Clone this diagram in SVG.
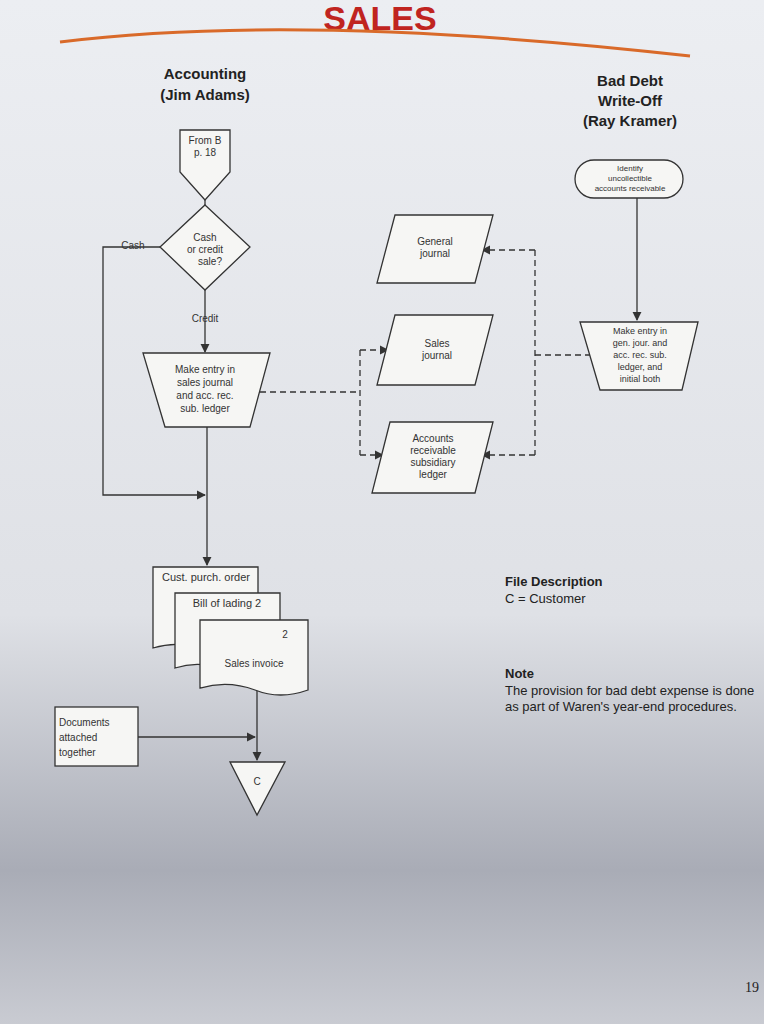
<svg xmlns="http://www.w3.org/2000/svg" width="764" height="1024" viewBox="0 0 764 1024">
<defs>
<linearGradient id="bg" x1="0" y1="0" x2="0" y2="1"><stop offset="0" stop-color="#eceef2"/><stop offset="0.6" stop-color="#dfe1e6"/><stop offset="0.85" stop-color="#a9acb6"/><stop offset="1" stop-color="#c9cbd2"/></linearGradient>
<marker id="a" viewBox="0 0 10 10" refX="9" refY="5" markerWidth="7" markerHeight="7" orient="auto"><path d="M0,0L10,5L0,10z" fill="#333"/></marker>
<style>
.s{fill:#f6f6f4;stroke:#333;stroke-width:1.3}
.l{fill:none;stroke:#333;stroke-width:1.3}
.d{fill:none;stroke:#333;stroke-width:1.3;stroke-dasharray:6,4}
.t{font-family:"Liberation Sans",Arial,sans-serif;font-size:10px;fill:#333;text-anchor:middle}
.h{font-family:"Liberation Sans",Arial,sans-serif;font-size:15px;font-weight:bold;fill:#222;text-anchor:middle}
.n{font-family:"Liberation Sans",Arial,sans-serif;font-size:13px;fill:#222}
</style>
</defs>
<rect width="764" height="1024" fill="url(#bg)"/>
<text x="380" y="30" class="h" style="font-size:34px;fill:#c0241f">SALES</text>
<path d="M60,42 Q300,12 690,56" fill="none" stroke="#d96a2a" stroke-width="3"/>
<text x="205" y="79" class="h">Accounting</text><text x="205" y="100" class="h">(Jim Adams)</text>
<text x="630" y="86" class="h">Bad Debt</text><text x="630" y="106" class="h">Write-Off</text><text x="630" y="126" class="h">(Ray Kramer)</text>
<g id="connectors">
<path class="l" d="M205,200V205"/>
<path class="l" d="M160,247H103V495H205" marker-end="url(#a)"/>
<path class="l" d="M205,290V352" marker-end="url(#a)"/>
<path class="l" d="M207,427V565" marker-end="url(#a)"/>
<path class="d" d="M260,392H360"/>
<path class="d" d="M360,350V455"/>
<path class="d" d="M360,350H388" marker-end="url(#a)"/>
<path class="d" d="M360,455H383" marker-end="url(#a)"/>
<path class="d" d="M535,250H482" marker-end="url(#a)"/>
<path class="d" d="M535,250V455"/>
<path class="d" d="M535,455H482" marker-end="url(#a)"/>
<path class="d" d="M535,355H598"/>
<path class="l" d="M637,198V320" marker-end="url(#a)"/>
<path class="l" d="M257,690V760" marker-end="url(#a)"/>
<path class="l" d="M138,737H255" marker-end="url(#a)"/>
</g>
<g id="fromB"><path class="s" d="M180,130H230V172L205,200L180,172Z"/><text x="205" y="144" class="t">From B</text><text x="205" y="156" class="t">p. 18</text></g>
<g id="decision"><path class="s" d="M205,205L250,247L205,290L160,247Z"/><text x="205" y="241" class="t">Cash</text><text x="205" y="253" class="t">or credit</text><text x="210" y="265" class="t">sale?</text></g>
<text x="133" y="249" class="t">Cash</text>
<text x="205" y="322" class="t">Credit</text>
<g id="entry"><path class="s" d="M143,353H270L250,427H165Z"/><text x="205" y="373" class="t">Make entry in</text><text x="205" y="386" class="t">sales journal</text><text x="205" y="399" class="t">and acc. rec.</text><text x="205" y="412" class="t">sub. ledger</text></g>
<g id="gj"><path class="s" d="M395,215H493L475,283H377Z"/><text x="435" y="245" class="t">General</text><text x="435" y="257" class="t">journal</text></g>
<g id="sj"><path class="s" d="M395,315H493L475,385H377Z"/><text x="437" y="347" class="t">Sales</text><text x="437" y="359" class="t">journal</text></g>
<g id="ar"><path class="s" d="M390,422H493L475,493H372Z"/><text x="433" y="442" class="t">Accounts</text><text x="433" y="454" class="t">receivable</text><text x="433" y="466" class="t">subsidiary</text><text x="433" y="478" class="t">ledger</text></g>
<g id="identify"><rect class="s" x="575" y="160" width="108" height="38" rx="19"/><text x="630" y="171" class="t" style="font-size:8px">Identify</text><text x="630" y="181" class="t" style="font-size:8px">uncollectible</text><text x="630" y="191" class="t" style="font-size:8px">accounts receivable</text></g>
<g id="entry2"><path class="s" d="M580,322H698L682,390H600Z"/><text x="640" y="334" class="t" style="font-size:9px">Make entry in</text><text x="640" y="346" class="t" style="font-size:9px">gen. jour. and</text><text x="640" y="358" class="t" style="font-size:9px">acc. rec. sub.</text><text x="640" y="370" class="t" style="font-size:9px">ledger, and</text><text x="640" y="382" class="t" style="font-size:9px">initial both</text></g>
<g id="docs">
<path class="s" d="M153,567H258V650Q230,660 205,650Q180,640 153,648Z"/>
<text x="206" y="581" class="t" style="font-size:11px">Cust. purch. order</text>
<path class="s" d="M175,593H280V670Q250,680 225,670Q200,660 175,668Z"/>
<text x="227" y="607" class="t" style="font-size:11px">Bill of lading  2</text>
<path class="s" d="M200,620H308V690Q280,700 255,690Q228,680 200,688Z"/>
<text x="285" y="638" class="t">2</text>
<text x="254" y="667" class="t">Sales invoice</text>
</g>
<g id="file"><path class="s" d="M230,762H285L257,815Z"/><text x="257" y="785" class="t">C</text></g>
<g id="note1"><rect class="s" x="55" y="707" width="83" height="59"/><text x="59" y="726" class="t" style="text-anchor:start">Documents</text><text x="59" y="741" class="t" style="text-anchor:start">attached</text><text x="59" y="756" class="t" style="text-anchor:start">together</text></g>
<text x="505" y="586" class="n" style="font-weight:bold">File Description</text>
<text x="505" y="603" class="n">C = Customer</text>
<text x="505" y="678" class="n" style="font-weight:bold">Note</text>
<text x="505" y="695" class="n">The provision for bad debt expense is done</text>
<text x="505" y="711" class="n">as part of Waren's year-end procedures.</text>
<text x="745" y="992" class="n" style="font-family:'Liberation Serif',serif;font-size:14px">19</text>
</svg>
